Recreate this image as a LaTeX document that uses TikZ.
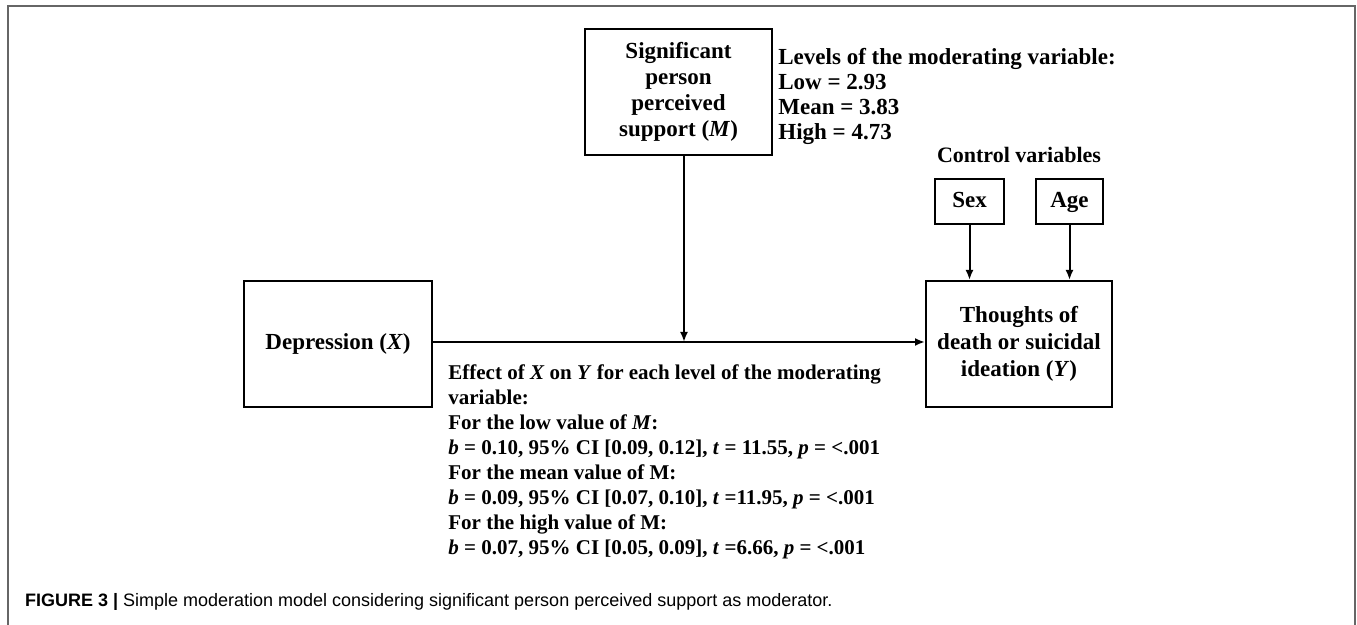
\documentclass[tikz,border=0pt]{standalone}
\usepackage{fontspec}
\setmainfont{Liberation Serif}
\newfontfamily\capfont{Liberation Sans}
\usetikzlibrary{arrows.meta}

\begin{document}
\begin{tikzpicture}[x=0.5pt,y=-0.5pt,
          var/.style={
            draw=black,
            line width=1pt,
            align=center,
            inner sep=2pt,
            font=\fontsize{11.5}{13.5}\selectfont\bfseries,
          },
          ctrlbox/.style={
            var,
            text height=0.7em,
            text depth=0.05em,
          },
          note/.style={
            align=left,
            inner sep=0pt,
            anchor=north west,
            font=\fontsize{10.5}{12.5}\selectfont\bfseries,
          },
          link/.style={-{Latex[length=5pt,width=4pt]}, line width=1pt},
        ]
          \useasboundingbox (0,0) rectangle (1357,625);
          \draw[black!60, line width=1pt] (8,625) -- (8,6) -- (1355,6) -- (1355,625);

          \node[var, minimum width=94pt, minimum height=63pt] (x) at (338,344) {Depression (\textit{X})};
          \node[var, minimum width=93pt, minimum height=63pt] (y) at (1019,344) {Thoughts of\\death or suicidal\\ideation (\textit{Y})};
          \node[var, minimum width=93.5pt, minimum height=63pt, font=\fontsize{11.5}{13}\selectfont\bfseries] (m) at (678.5,92) {Significant\\person\\perceived\\support (\textit{M})};
          \node[ctrlbox, minimum width=34.5pt, minimum height=22.5pt] (sex) at (969.5,201.5) {Sex};
          \node[ctrlbox, minimum width=33.5pt, minimum height=22.5pt] (age) at (1069.5,201.5) {Age};
          \node[font=\fontsize{11}{13}\selectfont\bfseries] (ctrl) at (1019,155) {Control variables};
          \coordinate (mod) at (684,342);

          \node[note, font=\fontsize{11.5}{12.5}\selectfont\bfseries] (levels) at (778,48) {Levels of the moderating variable:\\
            Low = 2.93\\Mean = 3.83\\High = 4.73};
          \node[note] (effect) at (448,364) {Effect of \textit{X} on \textit{Y} for each level of the moderating\\
            variable:\\
            For the low value of \textit{M}:\\
            \textit{b} = 0.10, 95\% CI [0.09, 0.12], \textit{t} = 11.55, \textit{p} = <.001\\
            For the mean value of M:\\
            \textit{b} = 0.09, 95\% CI [0.07, 0.10], \textit{t} =11.95, \textit{p} = <.001\\
            For the high value of M:\\
            \textit{b} = 0.07, 95\% CI [0.05, 0.09], \textit{t} =6.66, \textit{p} = <.001};

          \draw[link] (x.east |- mod) -- (y.west |- mod);
          \draw[link] (m.south -| mod) -- (mod);
          \draw[link] (sex.south) -- (sex.south |- y.north);
          \draw[link] (age.south) -- (age.south |- y.north);

          \node[anchor=base west, font=\capfont\fontsize{9}{10}\selectfont] (caption) at (18,607)
            {\textbf{FIGURE 3 |} Simple moderation model considering significant person perceived support as moderator.};
        \end{tikzpicture}
\end{document}
